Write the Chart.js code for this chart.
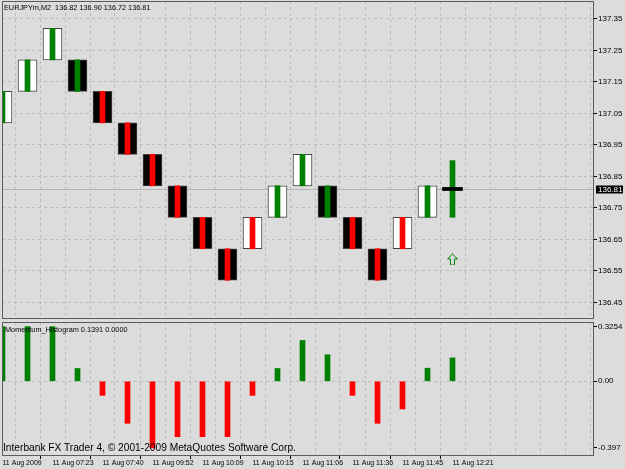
<!DOCTYPE html>
<html>
<head>
<meta charset="utf-8">
<script src="https://cdn.jsdelivr.net/npm/chart.js@4/dist/chart.umd.min.js"></script>
<style>
    body { margin: 0; background: #dcdcdc; width: 625px; height: 469px; overflow: hidden; position: relative; }
    canvas { position: absolute; left: 0; }
    #main-chart { top: 0; }
    #momentum-chart { top: 320px; }
    .label { position: absolute; font-family: 'Liberation Sans', sans-serif; color: #000; white-space: pre; }
    #title { left: 4px; top: 3px; font-size: 7.3px; }
    #momentum-title { left: 5px; top: 325px; font-size: 7.3px; }
    #copyright { left: 3px; top: 442px; font-size: 10.2px; }
</style>
</head>
<body>
<canvas id="main-chart" width="625" height="320"></canvas>
<canvas id="momentum-chart" width="625" height="149"></canvas>
<div class="label" id="title">EURJPYm,M2  136.82 136.90 136.72 136.81</div>
<div class="label" id="momentum-title">Momentum_Histogram 0.1391 0.0000</div>
<div class="label" id="copyright">Interbank FX Trader 4, © 2001-2009 MetaQuotes Software Corp.</div>
<script>
const brickOpen = [137.02, 137.12, 137.22, 137.22, 137.12, 137.02, 136.92, 136.82, 136.72, 136.62, 136.62, 136.72, 136.82, 136.82, 136.72, 136.62, 136.62, 136.72];
const brickClose = [137.12, 137.22, 137.32, 137.12, 137.02, 136.92, 136.82, 136.72, 136.62, 136.52, 136.72, 136.82, 136.92, 136.72, 136.62, 136.52, 136.72, 136.82];
const lastOpen = 136.82;
const lastHigh = 136.90;
const lastLow = 136.72;
const lastClose = 136.81;
const arrowPrice = 136.586;
const momentum = [0.3254, 0.3254, 0.3254, 0.076, -0.084, -0.25, -0.397, -0.33, -0.33, -0.33, -0.084, 0.076, 0.243, 0.158, -0.084, -0.25, -0.165, 0.078, 0.1391];
const timeLabels = ['11 Aug 2009', '11 Aug 07:23', '11 Aug 07:40', '11 Aug 09:52', '11 Aug 10:09', '11 Aug 10:15', '11 Aug 11:06', '11 Aug 11:36', '11 Aug 11:45', '11 Aug 12:21'];
const priceTicks = [137.35, 137.25, 137.15, 137.05, 136.95, 136.85, 136.75, 136.65, 136.55, 136.45];
const momentumTicks = [0.3254, 0, -0.397];

Chart.defaults.font.family = "'Liberation Sans', sans-serif";
Chart.defaults.font.size = 8;
Chart.defaults.color = '#000';

const GREEN = '#008000';
const RED = '#ff0000';
const GRID = '#bdbdbd';
const BG = '#dcdcdc';
const lastIndex = brickOpen.length;

const stripeColors = momentum.map((m) => m >= 0 ? GREEN : RED);

// slot positions: 25px per bar, first bar centre at 2.5px from the left frame
const xMin = -0.02;
const xMax = 23.66;
const gridIdx = [];
for (let i = 0; i <= 23; i++) gridIdx.push(i);

function noPadding(scale) {
    scale.paddingTop = 0;
    scale.paddingBottom = 0;
    scale.paddingLeft = 0;
    scale.paddingRight = 0;
}

function xAxis(extra, height) {
    return Object.assign({
        type: 'linear',
        min: xMin,
        max: xMax,
        offset: false,
        afterBuildTicks: (scale) => { scale.ticks = gridIdx.map((v) => ({value: v})); },
        border: {display: false, dash: [3, 3]},
        grid: {color: GRID, drawTicks: false},
        ticks: {display: false},
        afterFit: (scale) => { scale.height = height || 0; noPadding(scale); }
    }, extra || {});
}

const frame = {
    id: 'frame',
    afterDraw(chart) {
        const a = chart.chartArea;
        const ctx = chart.ctx;
        ctx.save();
        ctx.strokeStyle = '#5c5c5c';
        ctx.lineWidth = 1;
        ctx.strokeRect(a.left + 0.5, a.top + 0.5, a.right - a.left - 1, a.bottom - a.top - 1);
        ctx.restore();
    }
};

const priceLine = {
    id: 'priceLine',
    beforeDatasetsDraw(chart) {
        const y = Math.round(chart.scales.y.getPixelForValue(lastClose)) + 0.5;
        const a = chart.chartArea;
        const ctx = chart.ctx;
        ctx.save();
        ctx.strokeStyle = '#b4b4b4';
        ctx.lineWidth = 1;
        ctx.beginPath();
        ctx.moveTo(a.left, y);
        ctx.lineTo(a.right, y);
        ctx.stroke();
        ctx.restore();
    },
    afterDraw(chart) {
        const y = chart.scales.y.getPixelForValue(lastClose);
        const ctx = chart.ctx;
        ctx.save();
        ctx.fillStyle = '#000';
        ctx.fillRect(chart.chartArea.right + 2, Math.round(y) - 3.5, 27, 8);
        ctx.fillStyle = '#fff';
        ctx.font = "8px 'Liberation Sans', sans-serif";
        ctx.textBaseline = 'middle';
        ctx.fillText(lastClose.toFixed(2), chart.chartArea.right + 4, y + 0.5);
        ctx.restore();
    }
};

// outlined up arrow used as point style
const arrowImg = document.createElement('canvas');
arrowImg.width = 11;
arrowImg.height = 12;
(function () {
    const c = arrowImg.getContext('2d');
    c.beginPath();
    c.moveTo(5.5, 0.5);
    c.lineTo(10.5, 5.5);
    c.lineTo(7.5, 5.5);
    c.lineTo(7.5, 11.5);
    c.lineTo(3.5, 11.5);
    c.lineTo(3.5, 5.5);
    c.lineTo(0.5, 5.5);
    c.closePath();
    c.fillStyle = BG;
    c.fill();
    c.strokeStyle = GREEN;
    c.lineWidth = 1;
    c.stroke();
})();

const bodies = brickOpen.map((o, i) => ({x: i, y: [Math.min(o, brickClose[i]), Math.max(o, brickClose[i])]}));
const stripes = bodies.map((b) => ({x: b.x, y: b.y.slice()}));
stripes.push({x: lastIndex, y: [lastLow, lastHigh]});

new Chart(document.getElementById('main-chart'), {
    type: 'bar',
    data: {
        datasets: [{
            data: bodies,
            backgroundColor: brickOpen.map((o, i) => brickClose[i] > o ? '#ffffff' : '#000000'),
            borderColor: '#444444',
            borderWidth: 1,
            borderSkipped: false,
            barThickness: 19,
            grouped: false,
            clip: 0,
            order: 4
        }, {
            data: stripes,
            backgroundColor: stripeColors,
            borderWidth: 0,
            barThickness: 5,
            grouped: false,
            clip: 0,
            order: 3
        }, {
            data: [{x: lastIndex, y: [lastClose - 0.005, lastClose + 0.005]}],
            backgroundColor: '#000',
            borderWidth: 0,
            barThickness: 20,
            grouped: false,
            order: 2
        }, {
            type: 'scatter',
            data: [{x: lastIndex, y: arrowPrice}],
            pointStyle: arrowImg,
            order: 1
        }]
    },
    options: {
        responsive: false,
        animation: false,
        devicePixelRatio: 1,
        layout: {autoPadding: false, padding: {left: 2, top: 1, right: 0, bottom: 1}},
        plugins: {legend: {display: false}, tooltip: {enabled: false}},
        scales: {
            x: xAxis(),
            y: {
                position: 'right',
                min: 136.397,
                max: 137.407,
                afterBuildTicks: (scale) => { scale.ticks = priceTicks.map((v) => ({value: v})); },
                afterFit: (scale) => { scale.width = 31; noPadding(scale); },
                border: {display: false, dash: [3, 3]},
                grid: {color: GRID, tickColor: '#000', tickLength: 3, tickBorderDash: [], tickWidth: 1},
                ticks: {padding: 1, callback: (v) => v.toFixed(2)}
            }
        }
    },
    plugins: [frame, priceLine]
});

new Chart(document.getElementById('momentum-chart'), {
    type: 'bar',
    data: {
        datasets: [{
            data: momentum.map((m, i) => ({x: i, y: m})),
            backgroundColor: stripeColors,
            borderWidth: 0,
            barThickness: 5,
            clip: 0
        }]
    },
    options: {
        responsive: false,
        animation: false,
        devicePixelRatio: 1,
        layout: {autoPadding: false, padding: {left: 2, top: 2, right: 0, bottom: 0}},
        plugins: {legend: {display: false}, tooltip: {enabled: false}},
        scales: {
            x: xAxis({
                grid: {
                    color: GRID,
                    drawTicks: true,
                    tickLength: 3,
                    tickBorderDash: [],
                    tickColor: (ctx) => ctx.index % 2 === 0 && ctx.index <= 18 ? '#000' : 'rgba(0,0,0,0)'
                },
                ticks: {
                    display: true,
                    autoSkip: false,
                    maxRotation: 0,
                    align: 'start',
                    padding: 0,
                    font: {size: 7},
                    callback: (v) => (v % 2 === 0 && v / 2 < timeLabels.length) ? timeLabels[v / 2] : ''
                }
            }, 13),
            y: {
                position: 'right',
                min: -0.445,
                max: 0.353,
                afterBuildTicks: (scale) => { scale.ticks = momentumTicks.map((v) => ({value: v})); },
                afterFit: (scale) => { scale.width = 31; noPadding(scale); },
                border: {display: false, dash: [3, 3]},
                grid: {
                    color: (ctx) => ctx.tick && ctx.tick.value === 0 ? GRID : 'rgba(0,0,0,0)',
                    tickColor: '#000',
                    tickLength: 3,
                    tickBorderDash: []
                },
                ticks: {
                    padding: 1,
                    callback: (v) => v === 0 ? '0.00' : String(v)
                }
            }
        }
    },
    plugins: [frame]
});
</script>
</body>
</html>
